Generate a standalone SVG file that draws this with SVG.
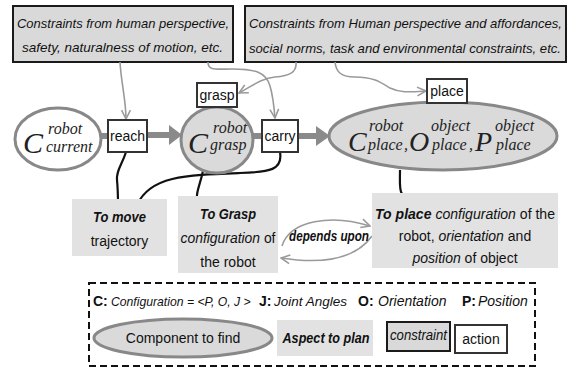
<svg xmlns="http://www.w3.org/2000/svg" width="569" height="370" viewBox="0 0 569 370">
<defs>
<style>
.cbox{fill:#d9d9d9;stroke:#1a1a1a;stroke-width:2}
.abox{fill:#fff;stroke:#333;stroke-width:2}
.tbox{fill:#e2e2e2;stroke:none}
.sans{font-family:"Liberation Sans",Arial,sans-serif;fill:#111}
.ser{font-family:"Liberation Serif","Times New Roman",serif;font-style:italic;fill:#222}
.it{font-style:italic}
.b{font-weight:bold}
.gray{fill:none;stroke:#9a9a9a;stroke-width:1.6}
.blk{fill:none;stroke:#111;stroke-width:2.2}
.thick{stroke:#8a8a8a;stroke-width:6}
</style>
<marker id="va" viewBox="0 0 10 10" refX="9" refY="5" markerWidth="11" markerHeight="11" markerUnits="userSpaceOnUse" orient="auto">
<path d="M1,1 L9,5 L1,9" fill="none" stroke="#9a9a9a" stroke-width="1.4"/>
</marker>
</defs>
<rect width="569" height="370" fill="#fff"/>

<g id="constraint1">
<rect class="cbox" x="13" y="6" width="220" height="56"/>
<text class="sans it" x="17" y="28" font-size="13.2" textLength="212" lengthAdjust="spacingAndGlyphs">Constraints from human perspective,</text>
<text class="sans it" x="22" y="52" font-size="13.2" textLength="201" lengthAdjust="spacingAndGlyphs">safety, naturalness of motion, etc.</text>
</g>
<g id="constraint2">
<rect class="cbox" x="245" y="6" width="321" height="56"/>
<text class="sans it" x="249" y="28" font-size="13.2" textLength="313" lengthAdjust="spacingAndGlyphs">Constraints from Human perspective and affordances,</text>
<text class="sans it" x="249" y="53" font-size="13.2" textLength="312" lengthAdjust="spacingAndGlyphs">social norms, task and environmental constraints, etc.</text>
</g>

<g id="connectors">
<line class="thick" x1="101" y1="136" x2="109" y2="136"/>
<line class="thick" x1="147" y1="135" x2="172" y2="135"/>
<polygon points="169,125 182,135 169,145" fill="#8a8a8a"/>
<line class="thick" x1="252" y1="136" x2="263" y2="136"/>
<line class="thick" x1="298" y1="136" x2="318" y2="136"/>
<polygon points="316,126 330,136 316,146" fill="#8a8a8a"/>
<path class="gray" d="M120,62 C121,82 126,100 126,119" marker-end="url(#va)"/>
<path class="gray" d="M208,62 C208,71 216,69 232,69 C255,69 266,72 270,86 C273,96 274,106 275,118" marker-end="url(#va)"/>
<path class="gray" d="M296,62 C297,72 290,76 275,77 C262,78 252,86 239,93" marker-end="url(#va)"/>
<path class="gray" d="M335,62 C336,72 341,77 355,77 C373,77 380,82 390,88 C400,93 410,92 426,91" marker-end="url(#va)"/>
<path class="gray" d="M282,246 C290,220 332,214 370,226" marker-end="url(#va)"/>
<path class="gray" d="M372,236 C355,260 320,264 281,258" marker-end="url(#va)"/>
<path class="blk" d="M126,152 C122,165 116,170 117,180 C118,190 118,198 118,206"/>
<path class="blk" d="M280,152 C283,170 270,172 240,173 C185,175 150,176 137,205"/>
<path class="blk" d="M203,171 C200,185 196,192 197,198 C197,202 199,205 202,206"/>
<path class="blk" d="M400,170 C400,182 399,190 402,194 C404,197 407,198 409,199"/>
</g>

<g id="c_current">
<ellipse cx="58" cy="139" rx="43" ry="31" fill="#fff" stroke="#888" stroke-width="3"/>
<text class="ser" x="23" y="153" font-size="30">C</text>
<text class="ser" x="48" y="134" font-size="16">robot</text>
<text class="ser" x="46" y="152" font-size="16">current</text>
</g>
<g id="reach">
<rect class="abox" x="108" y="120" width="39" height="32"/>
<text class="sans" x="127.5" y="141" font-size="14" text-anchor="middle">reach</text>
</g>
<g id="c_grasp">
<ellipse cx="217" cy="140" rx="36" ry="33" fill="#dadada" stroke="#888" stroke-width="3"/>
<text class="ser" x="188" y="153" font-size="30">C</text>
<text class="ser" x="213" y="133" font-size="16">robot</text>
<text class="ser" x="210" y="150" font-size="16">grasp</text>
</g>
<g id="grasp">
<rect class="abox" x="197" y="83" width="40" height="24"/>
<text class="sans" x="217" y="100" font-size="14" text-anchor="middle">grasp</text>
</g>
<g id="carry">
<rect class="abox" x="262" y="120" width="36" height="32"/>
<text class="sans" x="280" y="141" font-size="14" text-anchor="middle">carry</text>
</g>
<g id="c_place">
<ellipse cx="443" cy="136" rx="114" ry="34" fill="#dadada" stroke="#888" stroke-width="3"/>
<text class="ser" x="348" y="151" font-size="28">C</text>
<text class="ser" x="369" y="131" font-size="16">robot</text>
<text class="ser" x="368" y="150" font-size="16">place</text>
<text class="ser" x="404" y="150" font-size="16">,</text>
<text class="ser" x="409" y="151" font-size="28">O</text>
<text class="ser" x="431" y="131" font-size="16">object</text>
<text class="ser" x="432" y="150" font-size="16">place</text>
<text class="ser" x="469" y="150" font-size="16">,</text>
<text class="ser" x="475" y="151" font-size="28">P</text>
<text class="ser" x="495" y="131" font-size="16">object</text>
<text class="ser" x="496" y="150" font-size="16">place</text>
</g>
<g id="place">
<rect class="abox" x="427" y="79" width="40" height="24"/>
<text class="sans" x="447" y="96" font-size="14" text-anchor="middle">place</text>
</g>

<g id="to_move">
<rect class="tbox" x="72" y="199" width="95" height="57"/>
<text class="sans b it" x="119.5" y="222" font-size="14" text-anchor="middle" textLength="53" lengthAdjust="spacingAndGlyphs">To move</text>
<text class="sans" x="119.5" y="246" font-size="14" text-anchor="middle">trajectory</text>
</g>
<g id="to_grasp">
<rect class="tbox" x="178" y="196" width="100" height="77"/>
<text class="sans b it" x="228" y="219" font-size="14" text-anchor="middle" textLength="56" lengthAdjust="spacingAndGlyphs">To Grasp</text>
<text class="sans" x="228" y="243" font-size="14" text-anchor="middle" textLength="95" lengthAdjust="spacingAndGlyphs"><tspan class="it">configuration</tspan> of</text>
<text class="sans" x="228" y="267" font-size="14" text-anchor="middle">the robot</text>
</g>
<g id="depends">
<text class="sans b it" x="329" y="241" font-size="14" text-anchor="middle" textLength="80" lengthAdjust="spacingAndGlyphs">depends upon</text>
</g>
<g id="to_place">
<rect class="tbox" x="372" y="193" width="186" height="75"/>
<text class="sans" x="465" y="219" font-size="14" text-anchor="middle" textLength="180" lengthAdjust="spacingAndGlyphs"><tspan class="b it">To place</tspan> <tspan class="it">configuration</tspan> of the</text>
<text class="sans" x="465" y="241" font-size="14" text-anchor="middle">robot, <tspan class="it">orientation</tspan> and</text>
<text class="sans" x="465" y="263" font-size="14" text-anchor="middle"><tspan class="it">position</tspan> of object</text>
</g>

<g id="legend">
<rect x="89" y="283" width="446" height="83" fill="none" stroke="#111" stroke-width="2" stroke-dasharray="7,4"/>
<text class="sans b" x="93" y="306" font-size="14">C:</text>
<text class="sans it" x="111" y="306" font-size="12.2">Configuration = &lt;P, O, J &gt;</text>
<text class="sans b" x="259" y="306" font-size="14">J:</text>
<text class="sans it" x="274" y="306" font-size="13.5">Joint Angles</text>
<text class="sans b" x="358" y="306" font-size="14">O:</text>
<text class="sans it" x="378" y="306" font-size="14">Orientation</text>
<text class="sans b" x="462" y="306" font-size="14">P:</text>
<text class="sans it" x="478" y="306" font-size="14">Position</text>
<ellipse cx="183" cy="338" rx="89" ry="19" fill="#dadada" stroke="#888" stroke-width="3"/>
<text class="sans" x="183" y="343" font-size="14" text-anchor="middle">Component to find</text>
<rect class="tbox" x="277" y="320" width="96" height="36"/>
<text class="sans b it" x="326" y="343" font-size="14" text-anchor="middle" textLength="87" lengthAdjust="spacingAndGlyphs">Aspect to plan</text>
<rect class="cbox" x="387" y="322" width="63" height="29"/>
<text class="sans it" x="418.5" y="340" font-size="14" text-anchor="middle" textLength="57" lengthAdjust="spacingAndGlyphs">constraint</text>
<rect class="abox" x="455" y="325" width="52" height="28"/>
<text class="sans" x="481" y="344" font-size="14" text-anchor="middle">action</text>
</g>
</svg>
